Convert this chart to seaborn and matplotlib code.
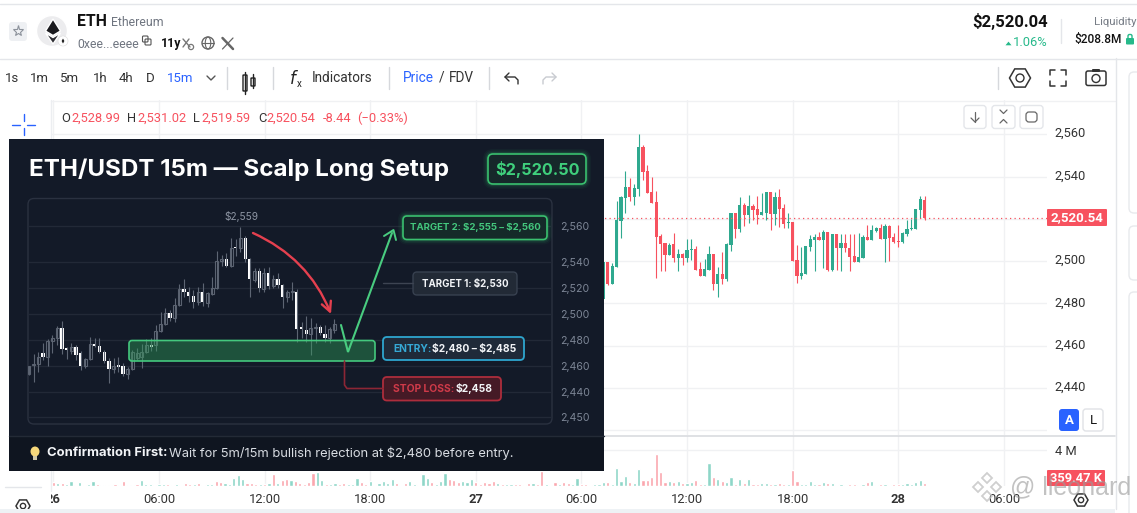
import matplotlib
matplotlib.use("Agg")
import matplotlib.pyplot as plt
from matplotlib.patches import Circle, Ellipse, FancyBboxPatch, Polygon, FancyArrowPatch
from matplotlib.transforms import ScaledTranslation
import numpy as np
import pandas as pd
import seaborn as sns

# main chart, 15m candles still visible right of the overlay
price_open = [2482.1, 2499.6, 2489.2, 2497.3, 2519.0, 2529.9, 2535.1, 2530.4, 2534.2, 2554.0,
              2542.7, 2532.7, 2528.0, 2511.9, 2508.6, 2502.9, 2508.1, 2501.5, 2503.4, 2501.5,
              2505.3, 2505.8, 2496.3, 2493.0, 2495.9, 2503.4, 2489.2, 2494.0, 2491.6, 2507.7,
              2522.8, 2515.2, 2526.6, 2521.9, 2526.1, 2524.7, 2521.9, 2522.8, 2532.7, 2522.3,
              2530.4, 2525.2, 2518.1, 2518.5, 2500.6, 2493.0, 2494.0, 2506.7, 2510.0, 2511.5,
              2510.0, 2513.8, 2495.7, 2512.9, 2506.3, 2508.6, 2506.3, 2502.5, 2499.6, 2501.5,
              2511.3, 2510.0, 2514.3, 2515.7, 2510.5, 2516.7, 2511.3, 2509.6, 2509.2, 2512.9,
              2515.4, 2515.4, 2524.2, 2528.99]
price_high = [2499.6, 2499.6, 2499.2, 2528.5, 2530.8, 2542.7, 2539.4, 2536.5, 2560.0, 2555.0,
              2545.5, 2539.8, 2533.2, 2512.9, 2508.6, 2508.6, 2513.3, 2505.8, 2503.9, 2510.5,
              2510.5, 2507.2, 2499.6, 2501.1, 2507.2, 2503.4, 2497.3, 2504.4, 2508.6, 2522.8,
              2522.8, 2530.4, 2527.5, 2531.3, 2527.1, 2530.8, 2532.3, 2532.7, 2532.7, 2532.7,
              2534.2, 2527.1, 2522.8, 2518.5, 2507.7, 2506.7, 2507.2, 2512.4, 2512.9, 2513.8,
              2514.8, 2513.8, 2512.9, 2512.9, 2512.9, 2512.9, 2512.9, 2512.9, 2513.2, 2512.4,
              2517.1, 2517.1, 2516.3, 2517.6, 2517.6, 2517.1, 2513.2, 2517.1, 2514.0, 2519.5,
              2519.8, 2524.7, 2530.8, 2531.02]
price_low = [2482.1, 2488.8, 2489.2, 2497.3, 2511.0, 2522.8, 2528.5, 2526.6, 2530.8, 2538.4,
             2532.3, 2527.5, 2492.1, 2495.4, 2495.4, 2502.9, 2499.6, 2495.4, 2498.2, 2499.6,
             2500.6, 2495.9, 2493.0, 2493.0, 2495.9, 2486.4, 2483.1, 2489.2, 2490.7, 2504.8,
             2511.0, 2513.8, 2516.7, 2518.1, 2519.5, 2517.6, 2521.9, 2519.5, 2514.8, 2517.1,
             2516.2, 2515.7, 2515.7, 2500.1, 2489.7, 2491.6, 2494.0, 2504.8, 2495.4, 2510.0,
             2496.6, 2495.4, 2495.4, 2495.9, 2495.4, 2504.5, 2495.4, 2499.6, 2499.6, 2501.5,
             2510.0, 2510.0, 2513.8, 2510.5, 2499.6, 2500.0, 2508.8, 2506.7, 2508.8, 2512.1,
             2514.8, 2515.4, 2520.6, 2519.59]
price_close = [2499.6, 2489.2, 2497.7, 2519.5, 2530.4, 2535.1, 2530.4, 2534.6, 2554.0, 2542.2,
               2532.3, 2527.5, 2511.5, 2508.1, 2502.9, 2507.7, 2501.5, 2503.4, 2501.5, 2505.3,
               2505.8, 2495.9, 2493.0, 2496.3, 2503.4, 2489.2, 2494.0, 2491.6, 2508.1, 2522.8,
               2515.2, 2526.6, 2521.9, 2526.1, 2524.2, 2521.9, 2523.3, 2532.7, 2522.3, 2530.4,
               2524.7, 2517.6, 2518.5, 2500.1, 2493.0, 2494.4, 2507.2, 2510.5, 2511.5, 2510.0,
               2513.8, 2495.7, 2512.9, 2506.3, 2508.6, 2506.0, 2502.0, 2499.6, 2502.0, 2511.3,
               2510.0, 2514.8, 2515.7, 2510.5, 2516.7, 2511.1, 2509.2, 2509.2, 2513.3, 2515.2,
               2515.7, 2524.7, 2529.4, 2520.54]
first_visible_bar = 125
last_price = 2520.54

price_ticks = [2420, 2440, 2460, 2480, 2500, 2520, 2540, 2560]
price_tick_labels = ["", "2,440", "2,460", "2,480", "2,500", "", "2,540", "2,560"]
time_ticks = [0, 24, 48, 72, 96, 120, 144, 168, 192, 216]
time_labels = ["26", "06:00", "12:00", "18:00", "27", "06:00", "12:00", "18:00", "28", "06:00"]

# volume in millions, one per 15m bar from the "26" tick onwards
volumes = [.45, .34, .34, .22, .56, .11, .45, .11, .22, .56,
           .22, .11, .11, .11, .22, .11, .56, .11, .11, .22,
           .67, .22, .22, .11, .22, .22, .22, .11, .22, .11,
           .34, .22, .22, .34, .11, .22, .22, .56, .45, .34,
           .22, .90, 1.24, .79, .34, .34, .22, .22, .22, .34,
           1.35, .34, .67, .79, .67, .56, .34, .22, .45, 1.46,
           1.57, .67, .22, .22, .34, .22, .34, .22, .22, .90,
           .45, .22, .56, .11, .34, .56, .34, .79, .34, .11,
           .34, .56, .22, .11, 1.35, .90, .45, .22, .56, 1.46,
           .79, .67, .45, .56, .45, .79, .45, .22, .45, .34,
           .56, .34, .22, .22, .22, .22, .22, .11, .34, .34,
           .22, 1.69, .22, .11, .45, .22, .45, .34, .22, .90,
           .22, .22, .11, .22, .22, .45, .45, .22, 1.99, .56,
           1.12, .45, .34, 1.91, .67, .67, 1.01, 3.60, 1.57, .45,
           .56, .45, .56, .34, .34, .45, .67, .22, .22, 2.58,
           1.01, .79, .56, .45, 1.01, .22, .79, .34, .79, .22,
           .22, .34, .34, .22, .22, .34, .22, .22, 1.80, .56,
           .22, .22, .56, .22, .22, .45, .34, .34, .11, .22,
           .11, .22, .22, .11, .22, .45, .56, .11, .22, .22,
           .11, .22, .22, .22, .34, .22, .45, .67, .36]
volume_sides = ("rgrggrgrgg" "rgrrrgrggr" "gggrggrrgg" "rrgrrggrrg" "ggggrrrgrg"
                "rgrrgrrrrr" "ggrggrrggg" "rrgrggggrr" "rggrggrggg" "rrrgggrrrr"
                "rgrggrrgrg" "rrgrrgrrgg" "rrggggrggg" "grggrrrrrr" "grgrggrrgg"
                "rgrggrgrgr" "rggrgrrgrr" "ggggrgrgrg" "rrrggrggrg" "rrrgggggr")

# candles inside the pasted dark setup card, values as drawn on its own scale
card_open = [2453.6, 2461.0, 2461.5, 2470.3, 2467.2, 2479.5, 2481.8, 2489.0, 2473.6, 2471.3, 2474.4,
             2470.3, 2460.3, 2465.1, 2476.9, 2475.4, 2471.0, 2463.6, 2457.7, 2460.5, 2460.3, 2454.1,
             2457.4, 2465.9, 2467.2, 2470.8, 2476.2, 2476.2, 2486.9, 2492.3, 2500.5, 2496.9, 2506.7,
             2519.5, 2516.9, 2513.8, 2509.2, 2516.9, 2508.7, 2515.4, 2520.3, 2541.0, 2542.1, 2536.9,
             2551.5, 2550.8, 2558.2, 2542.3, 2526.2, 2533.1, 2519.2, 2531.3, 2521.3, 2526.7, 2522.3,
             2513.3, 2516.7, 2516.7, 2488.7, 2487.7, 2484.6, 2489.0, 2489.7, 2484.4, 2481.5, 2487.7]
card_high = [2460.3, 2469.2, 2470.5, 2477.4, 2480.5, 2483.8, 2490.8, 2494.6, 2474.9, 2477.4, 2476.2,
             2471.8, 2465.9, 2482.3, 2481.3, 2481.3, 2472.3, 2465.9, 2466.4, 2467.2, 2462.1, 2459.5,
             2472.3, 2473.6, 2476.9, 2480.5, 2481.3, 2491.5, 2501.8, 2504.4, 2503.1, 2512.1, 2522.8,
             2526.9, 2521.0, 2518.5, 2521.0, 2524.1, 2517.2, 2528.2, 2548.5, 2545.4, 2546.7, 2558.7,
             2557.4, 2566.9, 2560.0, 2542.8, 2535.1, 2535.1, 2535.1, 2536.4, 2530.0, 2531.8, 2522.8,
             2518.5, 2524.9, 2519.2, 2494.1, 2498.5, 2496.7, 2492.8, 2491.5, 2491.5, 2490.3, 2495.9]
card_low = [2453.1, 2447.7, 2455.6, 2464.6, 2460.3, 2469.7, 2476.2, 2469.2, 2465.1, 2469.2, 2464.6,
            2456.9, 2458.2, 2464.6, 2474.9, 2469.7, 2462.1, 2447.2, 2454.9, 2455.6, 2452.6, 2450.0,
            2456.9, 2464.6, 2458.2, 2469.7, 2471.8, 2471.8, 2486.4, 2491.8, 2494.9, 2494.1, 2506.2,
            2513.3, 2509.5, 2504.4, 2506.9, 2506.2, 2505.6, 2514.9, 2519.5, 2536.9, 2536.4, 2536.4,
            2544.6, 2547.9, 2540.0, 2513.3, 2524.4, 2517.2, 2516.7, 2519.2, 2520.3, 2519.7, 2504.4,
            2509.5, 2510.8, 2478.7, 2481.3, 2478.7, 2468.5, 2477.4, 2483.8, 2478.7, 2477.4, 2485.1]
card_close = [2460.3, 2461.8, 2467.2, 2467.2, 2479.5, 2481.8, 2489.0, 2473.3, 2472.3, 2474.6, 2468.2,
              2460.3, 2465.1, 2476.9, 2475.6, 2471.0, 2463.6, 2457.7, 2460.0, 2459.5, 2454.1, 2457.7,
              2471.0, 2470.3, 2470.8, 2476.2, 2474.6, 2487.2, 2492.6, 2500.5, 2496.9, 2507.2, 2519.5,
              2517.2, 2514.1, 2509.2, 2516.9, 2509.2, 2515.9, 2520.3, 2541.0, 2542.1, 2537.2, 2550.8,
              2550.5, 2558.2, 2542.3, 2526.9, 2533.1, 2519.7, 2531.8, 2521.8, 2526.7, 2522.6, 2513.3,
              2516.7, 2517.2, 2488.7, 2488.5, 2484.6, 2489.0, 2489.7, 2485.1, 2481.5, 2488.2, 2492.6]
card_tick_pos = [2567.7, 2540, 2520, 2500, 2480, 2460, 2440, 2420.8]
card_tick_labels = ["2,560", "2,540", "2,520", "2,500", "2,480", "2,460", "2,440", "2,450"]

UP = "#2fa98f"
DOWN = "#f7525f"
PANEL = "#131a28"
UI = "Roboto"
CARD = "Inter"

W, H = 1137, 513

sns.set_theme(style="whitegrid")
plt.rcParams["font.family"] = [UI, "DejaVu Sans"]

fig = plt.figure(figsize=(W / 100, H / 100), dpi=100, facecolor="white")


def add_px_axes(x0, y0, x1, y1, zorder):
    ax = fig.add_axes([x0 / W, 1 - y1 / H, (x1 - x0) / W, (y1 - y0) / H], zorder=zorder)
    ax.patch.set_alpha(0)
    return ax


def rbox(ax, x0, y0, x1, y1, fc, ec="none", lw=1, r=3, **kw):
    patch = FancyBboxPatch((x0, y0), x1 - x0, y1 - y0, boxstyle=f"round,pad=0,rounding_size={r}",
                           fc=fc, ec=ec, lw=lw, **kw)
    ax.add_patch(patch)
    return patch


def glow_box(ax, x0, y0, x1, y1, fc, ec, r=4):
    for grow, alpha in [(5, .05), (3.5, .08), (2, .14)]:
        rbox(ax, x0 - grow, y0 - grow, x1 + grow, y1 + grow, ec, alpha=alpha, r=r + grow)
    rbox(ax, x0, y0, x1, y1, fc, ec, lw=1.2, r=r)


def label(ax, x, y, s, color="#222", size=9, weight="normal", ha="left", family=UI, math=False, **kw):
    return ax.text(x, y, s, color=color, fontsize=size, fontweight=weight, ha=ha, va="center",
                   family=family, parse_math=math, **kw)


def candles(ax, x, o, h, l, c, wick_lw=.8):
    o, h, l, c = map(np.array, (o, h, l, c))
    up = c >= o
    colors = np.where(up, UP, DOWN)
    ax.vlines(x, l, h, colors=colors, lw=wick_lw)
    ax.bar(x, np.maximum(np.abs(c - o), .35), bottom=np.minimum(o, c), width=.72, color=colors, lw=0)


def lift_labels(ax, px):
    # the app draws its price labels a little above the gridline
    offset = ScaledTranslation(0, px / 100, fig.dpi_scale_trans)
    for tick in ax.yaxis.get_major_ticks():
        tick.label2.set_transform(tick.label2.get_transform() + offset)


# price pane ----------------------------------------------------------------
ax_price = add_px_axes(51, 100, 1047, 435, 1)
bars = np.arange(first_visible_bar, first_visible_bar + len(price_open))
candles(ax_price, bars, price_open, price_high, price_low, price_close)
ax_price.axhline(last_price, color=DOWN, lw=.9, ls=(0, (1, 2.6)))
ax_price.set_xlim(-.545, 225.8)
ax_price.set_ylim(2417.8, 2576.2)
ax_price.set_xticks(time_ticks)
ax_price.set_xticklabels([])
ax_price.yaxis.tick_right()
ax_price.set_yticks(price_ticks)
ax_price.set_yticklabels(price_tick_labels, fontsize=9.3, color="#333")
ax_price.tick_params(axis="both", length=0, pad=5.5)
ax_price.grid(True, color="#f0f1f3", lw=1)
lift_labels(ax_price, 2)
sns.despine(ax=ax_price, left=True, bottom=True, right=True, top=True)

# volume pane ---------------------------------------------------------------
ax_vol = add_px_axes(51, 436, 1047, 486, 1)
vol_df = pd.DataFrame({"bar": np.arange(len(volumes)), "vol": volumes,
                       "side": list(volume_sides)})
sns.barplot(data=vol_df, x="bar", y="vol", hue="side", native_scale=True, dodge=False,
            palette={"g": "#8ed6c8", "r": "#fba6ae"}, saturation=1, width=.72, errorbar=None,
            legend=False, ax=ax_vol)
ax_vol.set_xlim(-.545, 225.8)
ax_vol.set_ylim(0, 5.62)
ax_vol.set_xlabel("")
ax_vol.set_ylabel("")
ax_vol.set_xticks(time_ticks)
ax_vol.set_xticklabels(time_labels, fontsize=9.3, color="#333")
for tick in ax_vol.get_xticklabels():
    if tick.get_text() in ("26", "27", "28"):
        tick.set_fontweight("bold")
ax_vol.yaxis.tick_right()
ax_vol.set_yticks([4])
ax_vol.set_yticklabels(["4 M"], fontsize=9.3, color="#333")
ax_vol.tick_params(axis="x", length=0, pad=5)
ax_vol.tick_params(axis="y", length=0, pad=5.5)
ax_vol.grid(True, color="#f0f1f3", lw=1)
ax_vol.set_axisbelow(True)
sns.despine(ax=ax_vol, left=True, bottom=True, right=True, top=True)

# app chrome, drawn in pixel coordinates --------------------------------------
ui = add_px_axes(0, 0, W, H, 2)
ui.set_xlim(0, W)
ui.set_ylim(H, 0)
ui.axis("off")
LINE = "#e4e6ea"

ui.add_patch(plt.Rectangle((0, 491), 51, 22, fc="white", ec="none"))
ui.add_patch(plt.Rectangle((0, 509), 1115, 4, fc="#eef2f5", ec="none"))
ui.plot([0, 1137], [3.5, 3.5], color=LINE, lw=1)
ui.plot([0, 1137], [58.5, 58.5], color=LINE, lw=1)
ui.plot([51, 1115], [100.5, 100.5], color="#f0f1f3", lw=1)
ui.plot([51, 51], [100, 491], color="#eceef1", lw=1)
ui.plot([5, 41], [486.5, 486.5], color=LINE, lw=1)
ui.plot([51, 1115], [435.5, 435.5], color="#d9dbdf", lw=1.2)
ui.plot([1115.5, 1115.5], [58, 509], color=LINE, lw=1)
for top, bottom in [(72, 213), (226, 280), (292, 560)]:
    rbox(ui, 1129, top, 1160, bottom, "white", "#e8eaed", r=5)

# header
rbox(ui, 9, 22, 27, 41, "#eef0f3", r=3)
ui.plot([18], [31], marker="*", ms=8, mfc="none", mec="#8c929b", mew=.8)
ui.add_patch(Circle((52, 31), 15.5, fc="#ececee"))
ui.add_patch(Polygon([[53, 19], [45.5, 31], [53, 35.5], [60.5, 31]], fc="#1a1a1e"))
ui.add_patch(Polygon([[45.5, 33], [53, 44], [60.5, 33], [53, 37.5]], fc="#2e2e33"))
ui.add_patch(Circle((63, 41), 5, fc="white", ec="#e0e0e0", lw=.5))
ui.add_patch(Polygon([[63, 37], [60.8, 41], [63, 45], [65.2, 41]], fc="#222"))
label(ui, 77, 22, "ETH", "#111", 11.3, "bold")
label(ui, 111, 22.5, "Ethereum", "#6f7580", 8.8)
label(ui, 77, 44, "0xee...eeee", "#6f7580", 8.8)
rbox(ui, 145, 39, 151, 45, "white", "#555", lw=.8, r=1)
rbox(ui, 142.5, 36, 148, 42, "none", "#555", lw=.8, r=1)
label(ui, 161, 44, "11y", "#111", 8.8, "bold")
ui.plot([183, 190], [39, 47], color="#777", lw=1)
ui.plot([183, 189], [47, 39], color="#777", lw=1)
ui.add_patch(Circle((191, 47), 2.6, fc="white", ec="#777", lw=.9))
ui.add_patch(Circle((208, 43), 6, fc="none", ec="#666", lw=1))
ui.add_patch(Ellipse((208, 43), 5.5, 12, fc="none", ec="#666", lw=.8))
ui.plot([202, 214], [43, 43], color="#666", lw=.8)
ui.plot([222.5, 233], [38, 49], color="#666", lw=1.8)
ui.plot([233, 222.5], [38, 49], color="#666", lw=.9)

label(ui, 1048, 22, "$2,520.04", "#111", 12, "bold", ha="right")
ui.add_patch(Polygon([[1004, 46], [1013, 46], [1008.5, 40.5]], fc="#26b98a"))
label(ui, 1048, 42, "1.06%", "#26b98a", 9.3, ha="right")
ui.plot([1060.5, 1060.5], [19, 43], color=LINE, lw=1)
label(ui, 1094, 22, "Liquidity", "#777d86", 8.2)
label(ui, 1074, 40, "$208.8M", "#111", 8.6, "medium")
rbox(ui, 1126, 38, 1134, 44.5, "#26b98a", r=1)
rbox(ui, 1128, 34.5, 1132, 40, "none", "#26b98a", lw=1, r=1.5)

# toolbar
for x, s, col in [(12, "1s", "#333"), (39, "1m", "#333"), (70, "5m", "#333"), (100, "1h", "#333"),
                  (126, "4h", "#333"), (150, "D", "#333"), (180, "15m", "#2962ff")]:
    label(ui, x, 78, s, col, 9.5, ha="center")
ui.plot([207, 211, 215], [76, 80, 76], color="#555", lw=1)
for x in (226, 272, 388, 488):
    ui.plot([x + .5, x + .5], [67, 89], color="#d6d8dc", lw=1)
ui.plot([997.5, 997.5], [67, 89], color="#d6d8dc", lw=1)
ui.plot([245, 245], [72, 94], color="#222", lw=1)
ui.plot([253, 253], [74, 88], color="#222", lw=1)
rbox(ui, 243, 75, 247, 91, "white", "#222", lw=1, r=.5)
rbox(ui, 251, 78, 255, 86, "white", "#222", lw=1, r=.5)
label(ui, 289, 78, "$f$", "#222", 12, math=True)
label(ui, 297, 84, "x", "#222", 7)
label(ui, 312, 78, "Indicators", "#333", 9.8)
label(ui, 403, 78, "Price", "#2962ff", 9.8)
label(ui, 439, 78, "/", "#333", 9.8)
label(ui, 449, 78, "FDV", "#333", 9.8)
ui.plot([518, 518, 515, 505], [84, 80, 77, 77], color="#333", lw=1)
ui.plot([509, 505, 509], [73, 77, 81], color="#333", lw=1)
ui.plot([543, 543, 546, 556], [84, 80, 77, 77], color="#c8cbd0", lw=1)
ui.plot([552, 556, 552], [73, 77, 81], color="#c8cbd0", lw=1)


def hexagon(cx, cy, r, color="#333"):
    a = np.radians([0, 60, 120, 180, 240, 300])
    ui.add_patch(Polygon(np.c_[cx + r * np.cos(a), cy + r * np.sin(a)], fc="none", ec=color, lw=1.1))
    ui.add_patch(Circle((cx, cy), r * .38, fc="none", ec=color, lw=1))


hexagon(1020, 78, 10.5)
for dx, dy in [(-1, -1), (1, -1), (-1, 1), (1, 1)]:
    cx, cy = 1058 + dx * 8, 78 + dy * 8
    ui.plot([cx, cx, cx - dx * 5], [cy - dy * 5, cy, cy], color="#333", lw=1.1)
rbox(ui, 1086, 71, 1106, 85.5, "none", "#333", lw=1.1, r=2)
rbox(ui, 1092, 69, 1100, 72, "#333", r=1)
ui.add_patch(Circle((1096, 78.5), 4, fc="none", ec="#333", lw=1))

for x0, x1 in [(964, 986), (992, 1015), (1020, 1043)]:
    rbox(ui, x0, 105.5, x1, 128.5, "white", "#e4e6ea", r=3)
ui.plot([975, 975], [112, 122], color="#666", lw=.9)
ui.plot([971, 975, 979], [118, 122, 118], color="#666", lw=.9)
ui.plot([1000, 1003.5, 1007], [110, 113.5, 110], color="#666", lw=.9)
ui.plot([1000, 1003.5, 1007], [123, 119.5, 123], color="#666", lw=.9)
rbox(ui, 1026, 112, 1037, 122, "none", "#666", lw=.9, r=3)

# OHLC legend
for x, s, col in [(61, "O", "#333"), (71, "2,528.99", DOWN), (127, "H", "#333"), (137, "2,531.02", DOWN),
                  (193, "L", "#333"), (201, "2,519.59", DOWN), (258, "C", "#333"), (266, "2,520.54", DOWN),
                  (323, "-8.44", DOWN), (357, "(−0.33%)", DOWN)]:
    label(ui, x, 118, s, col, 9.3)
for xs, ys in [([12, 20], [125, 125]), ([27, 35], [125, 125]), ([23.5, 23.5], [114, 121]), ([23.5, 23.5], [128, 135])]:
    ui.plot(xs, ys, color="#2962ff", lw=1)

# price and volume tags, bottom icons
rbox(ui, 1047, 209, 1107, 226, DOWN, r=1)
label(ui, 1077, 217.5, "2,520.54", "white", 9.5, "bold", ha="center")
rbox(ui, 1047, 470, 1105, 486, DOWN, r=1)
label(ui, 1076, 478, "359.47 K", "white", 9.3, "bold", ha="center")
rbox(ui, 1059, 409, 1079, 431, "#2962ff", r=3)
label(ui, 1069, 420, "A", "white", 9.5, "bold", ha="center")
rbox(ui, 1083, 409, 1103, 431, "white", "#e0e2e6", r=3)
label(ui, 1093, 420, "L", "#111", 9.5, ha="center")
hexagon(1081, 500, 7)
hexagon(23, 506, 7)
ui.add_patch(plt.Rectangle((0, 509), 51, 4, fc="#eef2f5", ec="none", zorder=5))

# dark setup card -------------------------------------------------------------
ui.add_patch(plt.Rectangle((9, 139), 595, 332, fc=PANEL, ec="none", zorder=6))
ui.add_patch(plt.Rectangle((9, 436), 595, 35, fc="#0f1520", ec="none", zorder=6))
ui.plot([9, 604], [435.5, 435.5], color="#232a36", lw=1, zorder=6)
rbox(ui, 28, 198.5, 552, 424, "none", "#2a3140", lw=1, r=6, zorder=7)

ax_card = add_px_axes(28, 198, 552, 424, 3)
card_x = np.arange(len(card_open))
card_o, card_c = np.array(card_open), np.array(card_close)
card_up = card_c >= card_o
ax_card.vlines(card_x, card_low, card_high, colors="#5d6573", lw=.8)
ax_card.bar(card_x[card_up], np.maximum(card_c - card_o, .6)[card_up], bottom=card_o[card_up], width=.62,
            color=PANEL, edgecolor="#5a6270", lw=.8)
ax_card.bar(card_x[~card_up], np.maximum(card_o - card_c, 1.2)[~card_up], bottom=card_c[~card_up], width=.7,
            color="white", lw=0)
ax_card.set_xlim(-.21, 111.3)
ax_card.set_ylim(2415.4, 2589.2)
ax_card.set_xticks([])
ax_card.yaxis.tick_right()
ax_card.set_yticks(card_tick_pos)
ax_card.set_yticklabels(card_tick_labels, fontsize=7.6, color="#7d8696", family=CARD)
ax_card.tick_params(axis="y", length=0, pad=6)
ax_card.grid(True, axis="y", color="#222937", lw=1)
ax_card.grid(False, axis="x")
ax_card.set_axisbelow(True)
sns.despine(ax=ax_card, left=True, bottom=True, right=True, top=True)

# overlay annotations on the card
fr = add_px_axes(0, 0, W, H, 4)
fr.set_xlim(0, W)
fr.set_ylim(H, 0)
fr.axis("off")

label(fr, 29, 170, "ETH/USDT 15m — Scalp Long Setup", "white", 17.4, "bold", family=CARD)
glow_box(fr, 488, 154, 586, 184, "#16282a", "#3ac06f", r=5)
label(fr, 537, 169, "$2,520.50", "#3fcf7c", 11.7, "bold", ha="center", family=CARD)
label(fr, 241, 217, "$2,559", "#8d95a3", 7.3, ha="center", family=CARD)

rbox(fr, 129, 340.5, 375, 361, "#2ea05a", alpha=.42, r=3)
rbox(fr, 129, 340.5, 375, 361, "none", "#44c87e", lw=1.2, r=3)

fr.add_patch(FancyArrowPatch((253, 233), (331, 314), connectionstyle="arc3,rad=-.2",
                             arrowstyle="->,head_width=3.5,head_length=7", color="#e5404f", lw=1.7, shrinkA=0, shrinkB=0))
fr.plot([341, 348, 392], [325, 352, 233], color="#49cc80", lw=1.5, solid_joinstyle="miter")
fr.plot([384, 393.5, 396], [236, 230, 240], color="#49cc80", lw=1.4)
fr.plot([344.5, 344.5, 347, 383], [361, 385, 388.5, 388.5], color="#8c2635", lw=1.2)
fr.plot([383, 413], [283, 283], color="#3d4452", lw=1)

glow_box(fr, 403, 216, 547, 239.5, "#152a29", "#3ac06f", r=4)
label(fr, 475, 228, "TARGET 2: $2,555 – $2,560", "#44c87e", 6.9, "bold", ha="center", family=CARD)
rbox(fr, 413, 272, 517, 295, "#222a36", "#384150", lw=1, r=4)
label(fr, 465, 283.5, "TARGET 1: $2,530", "#f2f4f7", 7, "bold", ha="center", family=CARD)
rbox(fr, 383, 337, 524, 360, "#1f2a39", "#2ea6cf", lw=1.3, r=4)
label(fr, 393, 348.5, "ENTRY:", "#36a9d6", 7.4, "bold", family=CARD)
label(fr, 432, 348.5, "$2,480 – $2,485", "#f2f4f7", 7.4, "bold", family=CARD)
rbox(fr, 383, 377, 501, 400.5, "#451a26", "#ad2d3c", lw=1.3, r=4)
label(fr, 393, 389, "STOP LOSS:", "#cf3a49", 7.4, "bold", family=CARD)
label(fr, 456, 389, "$2,458", "#f2f4f7", 7.4, "bold", family=CARD)

fr.add_patch(Ellipse((35, 451.5), 9, 10, fc="#f6d77a", ec="none"))
fr.add_patch(plt.Rectangle((33, 456), 4, 4, fc="#cfc7a8", ec="none"))
label(fr, 47, 453.5, "Confirmation First:", "#f2f4f7", 9.4, "bold", family=CARD)
label(fr, 169, 453.5, "Wait for 5m/15m bullish rejection at $2,480 before entry.", "#d8dce2", 9.3, family=CARD)

# watermark
for cx, cy, s in [(987, 478, 5), (978, 487, 5), (996, 487, 5), (987, 496, 5)]:
    fr.add_patch(Polygon([[cx, cy - s], [cx + s, cy], [cx, cy + s], [cx - s, cy]], fc="none",
                         ec="#c4c4c4", lw=1.3, alpha=.8))
label(fr, 1010, 487, "@ lleonard", "#9a9a9a", 18, alpha=.6, family="Liberation Sans")

fig.savefig("out.png", dpi=100)
